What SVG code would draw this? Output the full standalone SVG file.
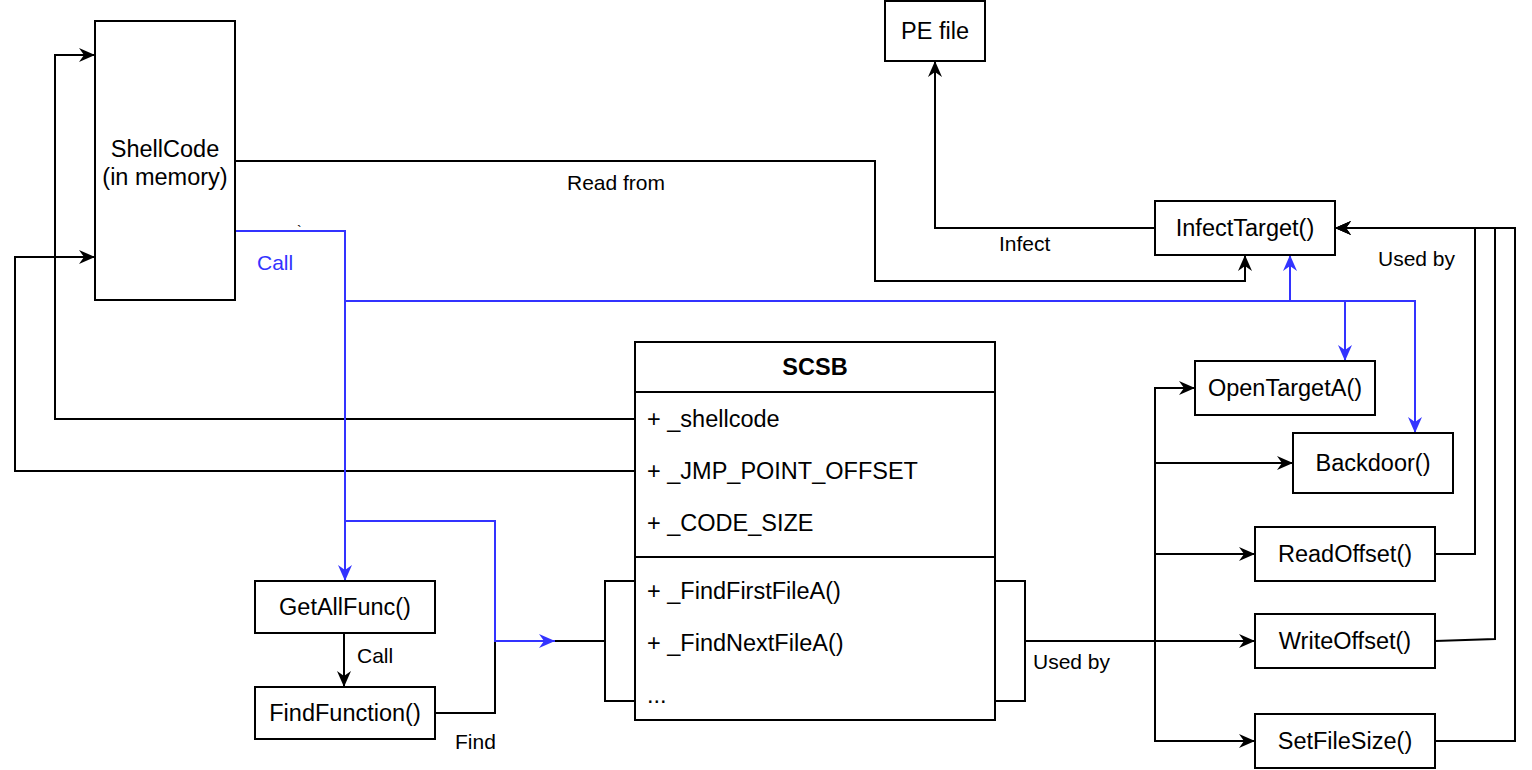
<svg xmlns="http://www.w3.org/2000/svg" width="1532" height="770" viewBox="0 0 1532 770">
<style>
.box{fill:#fff;stroke:#000;stroke-width:2}
.t{font-family:"Liberation Sans",Arial,Helvetica,sans-serif;font-size:23.5px;fill:#000}
.c{text-anchor:middle}
.b{font-weight:bold}
.lbl{font-family:"Liberation Sans",Arial,Helvetica,sans-serif;font-size:21px;fill:#000}
.blue{fill:#3333FF}
.k{fill:none;stroke:#000;stroke-width:2}
.u{fill:none;stroke:#3333FF;stroke-width:2}
.ka{marker-end:url(#ak)}
.ua{marker-end:url(#au)}
</style>
<defs>
<marker id="ak" viewBox="-17 -8 18 16" refX="0" refY="0" markerWidth="18" markerHeight="16" markerUnits="userSpaceOnUse" orient="auto">
<path d="M0,0 L-16,-7 L-11,0 L-16,7 Z" fill="#000"/>
</marker>
<marker id="au" viewBox="-17 -8 18 16" refX="0" refY="0" markerWidth="18" markerHeight="16" markerUnits="userSpaceOnUse" orient="auto">
<path d="M0,0 L-16,-7 L-11,0 L-16,7 Z" fill="#3333FF"/>
</marker>
</defs>
<rect width="1532" height="770" fill="#fff"/>

<g id="connectors">
<!-- black connectors -->
<path class="k ka" d="M635,419 H55 V55 H95"/>
<path class="k ka" d="M635,471 H15 V257 H95"/>
<path class="k ka" d="M235,161 H875 V281 H1245 V255"/>
<path class="k ka" d="M1155,228 H935 V61"/>
<path class="k ka" d="M344,633 V687"/>
<path class="k" d="M435,713 H495 V641 H605"/>
<path class="k" d="M635,581 H605 V701 H635"/>
<path class="k" d="M995,581 H1025 V701 H995"/>
<path class="k ka" d="M1025,641 H1255"/>
<path class="k ka" d="M1155,641 V388 H1195"/>
<path class="k ka" d="M1155,463 H1293"/>
<path class="k ka" d="M1155,554 H1255"/>
<path class="k ka" d="M1155,641 V741 H1255"/>
<path class="k ka" d="M1435,554 H1475 V228 H1335"/>
<path class="k ka" d="M1435,641 L1495,639 V228 H1335"/>
<path class="k ka" d="M1435,741 H1515 V228 H1335"/>
<!-- blue connectors -->
<path class="u ua" d="M235,231 H345 V581"/>
<path class="u ua" d="M345,301 H1290 V255"/>
<path class="u ua" d="M1290,301 H1345 V361"/>
<path class="u ua" d="M1345,301 H1415 V433"/>
<path class="u ua" d="M345,521 H495 V641 H555"/>
</g>

<g id="labels">
<text class="lbl" x="567" y="190">Read from</text>
<text class="lbl" x="999" y="251">Infect</text>
<text class="lbl" x="1378" y="266">Used by</text>
<text class="lbl" x="1033" y="669">Used by</text>
<text class="lbl blue" x="257" y="270">Call</text>
<text class="lbl" x="357" y="663">Call</text>
<text class="lbl" x="455" y="749">Find</text>
<text class="lbl" x="297" y="236" style="font-size:14px">`</text>
</g>

<g id="shellcode">
<rect class="box" x="95" y="21" width="140" height="279"/>
<text class="t c" x="165" y="157">ShellCode</text>
<text class="t c" x="165" y="185">(in memory)</text>
</g>

<g id="pefile">
<rect class="box" x="885" y="1" width="100" height="60"/>
<text class="t c" x="935" y="39">PE file</text>
</g>

<g id="infecttarget">
<rect class="box" x="1155" y="201" width="180" height="54"/>
<text class="t c" x="1245" y="236">InfectTarget()</text>
</g>

<g id="opentargeta">
<rect class="box" x="1195" y="361" width="180" height="54"/>
<text class="t c" x="1285" y="396">OpenTargetA()</text>
</g>

<g id="backdoor">
<rect class="box" x="1293" y="433" width="160" height="60"/>
<text class="t c" x="1373" y="471">Backdoor()</text>
</g>

<g id="readoffset">
<rect class="box" x="1255" y="527" width="180" height="54"/>
<text class="t c" x="1345" y="562">ReadOffset()</text>
</g>

<g id="writeoffset">
<rect class="box" x="1255" y="614" width="180" height="54"/>
<text class="t c" x="1345" y="649">WriteOffset()</text>
</g>

<g id="setfilesize">
<rect class="box" x="1255" y="714" width="180" height="54"/>
<text class="t c" x="1345" y="749">SetFileSize()</text>
</g>

<g id="getallfunc">
<rect class="box" x="255" y="581" width="180" height="52"/>
<text class="t c" x="345" y="615">GetAllFunc()</text>
</g>

<g id="findfunction">
<rect class="box" x="255" y="687" width="180" height="52"/>
<text class="t c" x="345" y="721">FindFunction()</text>
</g>

<g id="scsb">
<rect class="box" x="635" y="342" width="360" height="378"/>
<line class="k" x1="635" y1="392" x2="995" y2="392"/>
<line class="k" x1="635" y1="557" x2="995" y2="557"/>
<text class="t c b" x="815" y="375">SCSB</text>
<text class="t" x="647" y="427">+ _shellcode</text>
<text class="t" x="647" y="479">+ _JMP_POINT_OFFSET</text>
<text class="t" x="647" y="531">+ _CODE_SIZE</text>
<text class="t" x="647" y="599">+ _FindFirstFileA()</text>
<text class="t" x="647" y="651">+ _FindNextFileA()</text>
<text class="t" x="647" y="703">...</text>
</g>
</svg>
